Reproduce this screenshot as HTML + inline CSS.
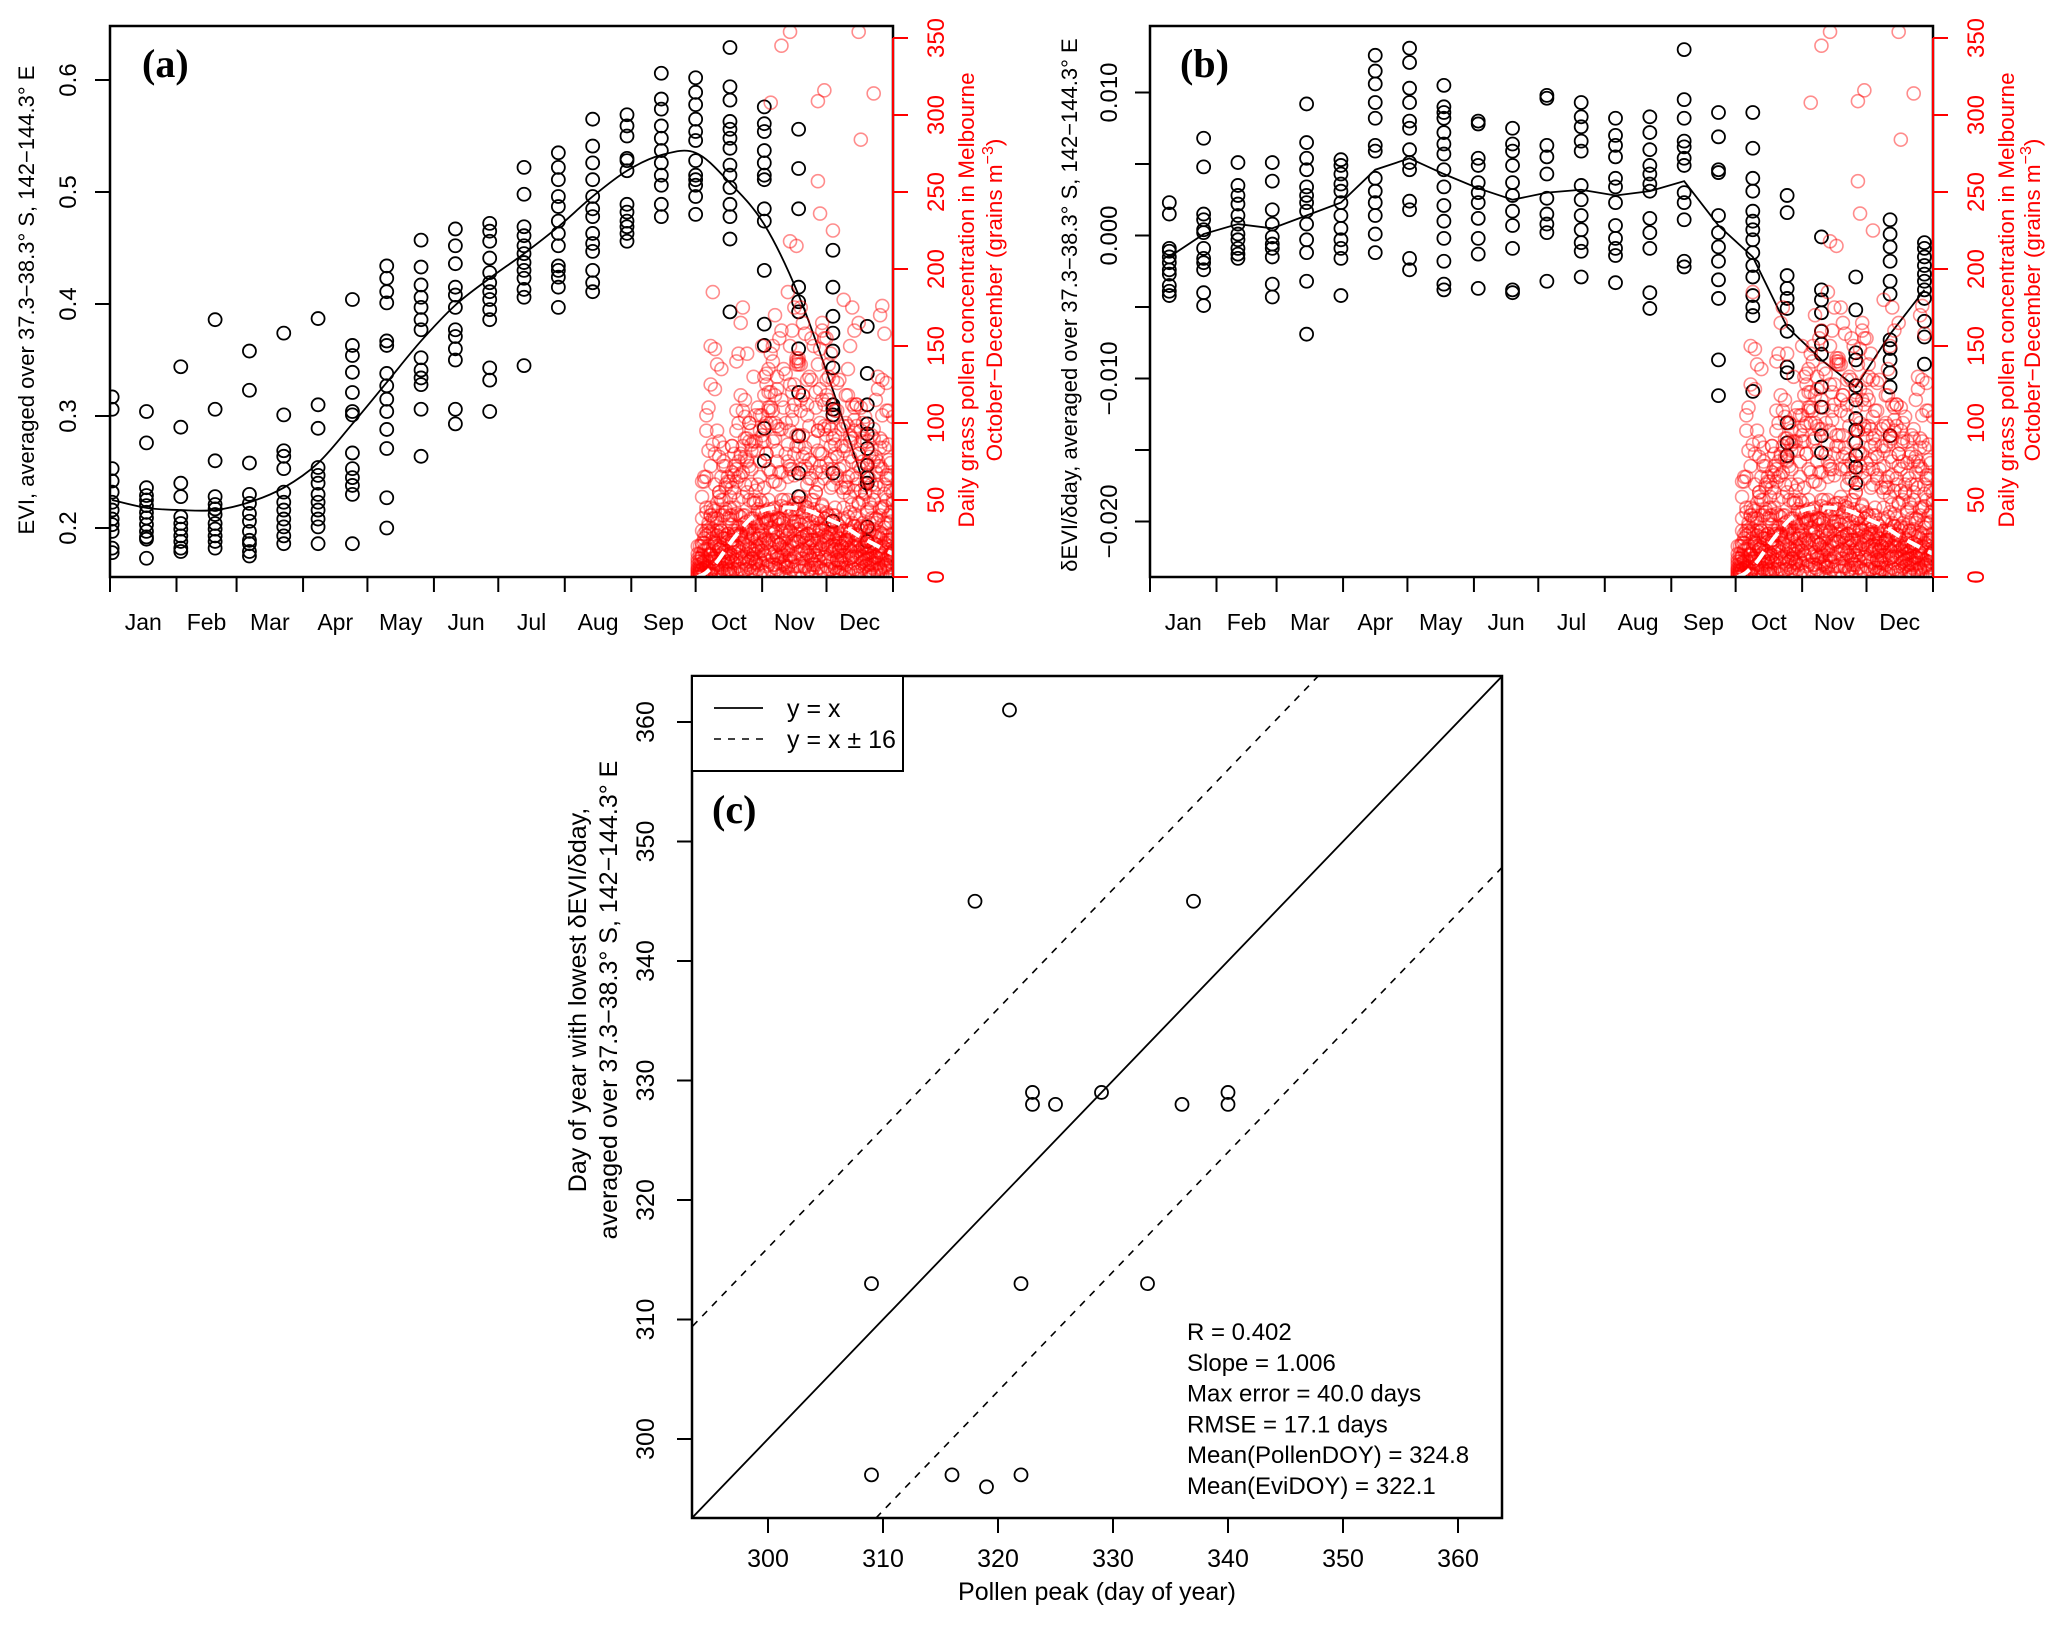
<!DOCTYPE html>
<html><head><meta charset="utf-8"><title>EVI and pollen</title>
<style>
html,body{margin:0;padding:0;background:#fff;}
svg{display:block;font-family:"Liberation Sans",sans-serif;}
</style></head>
<body>
<svg id="fig" width="2067" height="1629" viewBox="0 0 2067 1629" xmlns="http://www.w3.org/2000/svg">
<defs>
<clipPath id="clipA"><rect x="110" y="26" width="783" height="551"/></clipPath>
<clipPath id="clipB"><rect x="1150" y="26" width="783" height="551"/></clipPath>
<clipPath id="clipC"><rect x="692" y="676" width="810" height="842"/></clipPath>
</defs>
</svg>
<script>
// ---------- DATA ----------
const months = ["Jan","Feb","Mar","Apr","May","Jun","Jul","Aug","Sep","Oct","Nov","Dec"];
const monthStarts = [0,31,59,90,120,151,181,212,243,273,304,334,365];
const evaTicks = [0.2,0.3,0.4,0.5,0.6];
const dEviTicks = [0.01,0.005,0,-0.005,-0.01,-0.015,-0.02];
const dEviTickLabels = ["0.010","","0.000","","\u22120.010","","\u22120.020"];
const pollenTicks = [0,50,100,150,200,250,300,350];
const evaDoy = [1,17,33,49,65,81,97,113,129,145,161,177,193,209,225,241,257,273,289,305,321,337,353];
const dEviDoy = [9,25,41,57,73,89,105,121,137,153,169,185,201,217,233,249,265,281,297,313,329,345,361];
const evaValues = [
[0.317,0.306,0.253,0.242,0.232,0.223,0.216,0.208,0.203,0.197,0.182,0.178],
[0.304,0.276,0.236,0.229,0.225,0.220,0.214,0.209,0.203,0.197,0.192,0.190,0.173],
[0.344,0.290,0.240,0.228,0.210,0.204,0.199,0.193,0.188,0.182,0.179],
[0.386,0.306,0.260,0.228,0.221,0.217,0.212,0.204,0.199,0.193,0.188,0.182],
[0.358,0.323,0.258,0.230,0.222,0.213,0.206,0.197,0.189,0.186,0.179,0.175],
[0.374,0.301,0.269,0.264,0.253,0.232,0.223,0.216,0.208,0.201,0.193,0.186],
[0.387,0.310,0.289,0.254,0.247,0.240,0.230,0.223,0.216,0.208,0.201,0.186],
[0.404,0.363,0.354,0.339,0.321,0.304,0.301,0.267,0.253,0.245,0.238,0.230,0.186],
[0.434,0.423,0.411,0.401,0.367,0.363,0.338,0.327,0.315,0.304,0.288,0.271,0.227,0.200],
[0.457,0.433,0.417,0.406,0.397,0.386,0.377,0.352,0.341,0.334,0.328,0.306,0.264],
[0.467,0.452,0.436,0.415,0.408,0.397,0.377,0.371,0.360,0.350,0.306,0.293],
[0.472,0.465,0.456,0.441,0.428,0.419,0.411,0.404,0.395,0.386,0.343,0.332,0.304],
[0.522,0.498,0.469,0.461,0.452,0.445,0.437,0.430,0.423,0.413,0.406,0.345],
[0.535,0.522,0.511,0.496,0.487,0.474,0.463,0.452,0.434,0.430,0.424,0.415,0.397],
[0.565,0.541,0.526,0.511,0.496,0.485,0.478,0.463,0.454,0.447,0.430,0.419,0.411],
[0.569,0.559,0.550,0.530,0.528,0.519,0.489,0.482,0.474,0.469,0.463,0.456],
[0.606,0.583,0.574,0.559,0.548,0.537,0.526,0.515,0.506,0.489,0.478],
[0.602,0.589,0.578,0.565,0.554,0.546,0.528,0.515,0.511,0.506,0.496,0.480],
[0.629,0.594,0.582,0.563,0.556,0.548,0.539,0.524,0.515,0.504,0.489,0.478,0.458,0.393],
[0.576,0.561,0.554,0.537,0.526,0.515,0.511,0.485,0.474,0.430,0.382,0.363,0.289,0.260],
[0.556,0.521,0.485,0.415,0.402,0.393,0.360,0.321,0.282,0.249,0.228],
[0.448,0.415,0.389,0.374,0.358,0.343,0.310,0.306,0.301,0.249,0.206],
[0.380,0.338,0.310,0.293,0.284,0.271,0.256,0.245,0.240,0.201,0.188]
];
const evaCurve = [0.225,0.218,0.216,0.216,0.223,0.236,0.258,0.293,0.330,0.367,0.399,0.423,0.445,0.469,0.496,0.519,0.533,0.535,0.508,0.471,0.408,0.323,0.230];
// dEVI/dday values in units of 0.001
const dEviValues = [
[2.3,1.5,-0.9,-1.1,-1.5,-1.9,-2.4,-2.7,-3.5,-3.9,-4.2],
[6.8,4.8,1.5,1.1,0.4,0.2,-0.9,-1.6,-1.9,-2.4,-4.0,-4.9],
[5.1,3.5,2.8,2.2,1.4,0.8,0.1,-0.3,-0.9,-1.3,-1.6],
[5.1,3.8,1.8,0.8,-0.1,-0.6,-0.9,-1.5,-3.4,-4.3],
[9.2,6.5,5.4,4.6,3.4,2.8,2.3,1.7,0.8,-0.3,-1.2,-3.2,-6.9],
[5.3,4.9,4.3,3.6,3.1,2.3,1.4,0.5,-0.3,-0.9,-1.6,-4.2],
[12.6,11.5,10.6,9.3,8.2,6.3,5.9,4.0,3.1,2.3,1.4,0.1,-1.2],
[13.1,12.1,10.3,9.3,8.0,7.5,6.0,5.1,4.6,2.4,1.8,-1.6,-2.4],
[10.5,9.0,8.6,8.2,7.2,6.4,5.7,4.6,3.4,2.1,1.0,-0.2,-1.8,-3.4,-3.8],
[8.0,7.8,5.4,4.9,3.7,3.0,2.3,1.2,-0.2,-1.3,-3.7],
[7.5,6.4,5.9,4.9,3.7,2.8,1.7,0.7,-0.9,-3.8,-4.0],
[9.8,9.6,6.3,5.5,4.3,2.6,1.5,0.8,0.2,-3.2],
[9.3,8.3,7.6,6.6,5.9,3.5,2.5,1.4,0.4,-0.5,-1.1,-2.9],
[8.2,7.0,6.3,5.5,4.0,3.4,2.3,0.7,-0.2,-0.9,-1.4,-3.3],
[8.3,7.2,6.0,4.9,4.3,3.6,3.1,1.2,0.2,-0.9,-4.0,-5.1],
[13.0,9.5,8.2,6.6,6.2,5.4,4.9,3.0,2.3,1.1,-1.8,-2.2],
[8.6,6.9,4.6,4.4,1.4,0.2,-0.8,-1.8,-3.1,-4.4,-8.7,-11.2],
[8.6,6.1,4.0,3.1,1.7,1.0,0.4,-0.3,-1.2,-2.1,-2.9,-4.2,-5.0,-5.6,-10.9],
[2.8,1.6,-2.8,-3.7,-4.4,-5.1,-6.7,-9.2,-9.6,-13.1,-14.5,-15.4],
[-0.1,-3.8,-4.5,-5.4,-6.7,-7.6,-8.3,-10.6,-12.0,-14.0,-15.2],
[-2.9,-5.2,-8.2,-8.7,-10.5,-11.5,-12.8,-13.6,-14.5,-15.4,-16.2,-17.3],
[1.1,0.1,-0.8,-1.8,-3.2,-4.1,-7.3,-7.9,-8.7,-9.6,-10.6,-14.0],
[-0.5,-0.9,-1.5,-2.1,-2.7,-3.2,-3.8,-4.4,-6.0,-7.1,-9.0]
];
const dEviCurve = [-1.5,0.1,0.8,0.5,1.4,2.3,4.6,5.4,4.3,3.3,2.5,3.0,3.2,2.8,3.1,3.8,0.7,-1.5,-6.4,-8.7,-10.6,-6.9,-3.8];
// Pollen daily values (grains m^-3), Oct-Dec
const pollenDaysEven = [274,276,278,280,282,284,286,288,290,292,294,296,298,300,302,304,306,308,310,312,314,316,318,320,322,324,326,328,330,332,334,336,338,340,342,344,346,348,350,352,354,356,358,360,362,364];
const pollenDaysOdd = [275,277,279,281,283,285,287,289,291,293,295,297,299,301,303,305,307,309,311,313,315,317,319,321,323,325,327,329,331,333,335,337,339,341,343,345,347,349,351,353,355,357,359,361,363,365];
const pollenL1 = [0,1,0,2,1,3,2,4,3,2,5,4,6,3,5,4,7,5,6,4,8,6,5,7,4,6,5,8,6,4,7,5,6,3,5,4,6,3,4,2,3,2,3,1,2,1];
const pollenL2 = [1,3,2,5,4,6,8,5,9,7,10,8,12,9,11,14,10,13,12,15,11,14,13,16,12,15,11,14,10,13,12,9,11,10,8,12,9,7,10,8,6,9,5,7,4,6];
const pollenL3 = [2,5,7,4,9,8,12,10,14,11,16,13,18,15,20,17,22,19,16,21,24,18,20,23,17,22,19,24,16,21,18,15,20,17,14,19,13,16,12,15,11,13,9,12,8,10];
const pollenL4 = [3,6,9,12,8,14,16,13,19,17,22,20,25,21,27,24,23,28,26,30,25,29,27,31,26,28,24,30,22,27,25,21,26,20,23,18,22,17,19,15,18,13,16,11,14,12];
const pollenL5 = [4,9,6,15,12,18,21,17,24,20,28,26,31,27,33,30,35,32,29,34,37,31,33,36,30,35,28,32,27,31,26,29,24,28,22,26,20,24,18,21,16,19,14,17,12,15];
const pollenL6 = [6,11,14,10,20,17,25,22,30,27,34,31,38,35,42,39,44,41,37,46,43,40,47,44,39,45,41,37,43,38,34,40,35,31,36,29,33,27,30,24,28,21,25,19,22,17];
const pollenM1 = [10,14,18,15,22,20,25,28,24,30,27,35,32,38,30,42,36,40,45,38,50,44,41,48,52,46,40,44,38,47,42,36,40,33,38,30,35,28,32,25,30,22,27,20,24,18];
const pollenM2 = [15,22,28,25,35,30,42,38,45,50,40,55,60,48,65,58,70,62,75,68,80,72,66,85,78,70,74,68,80,64,70,60,66,58,62,52,56,48,50,42,45,38,40,32,35,28];
const pollenM3 = [8,20,30,45,38,55,50,62,58,70,66,78,72,88,82,92,80,100,90,96,110,86,102,92,108,84,98,88,95,80,92,76,86,70,82,65,75,60,70,55,64,50,58,44,50,36];
const pollenM4 = [12,18,35,28,48,40,60,52,72,65,85,75,95,88,105,98,120,108,130,115,100,125,112,138,118,105,128,110,122,98,115,90,108,85,100,78,95,72,88,66,80,60,72,54,64,48];
const pollenH1 = [20,30,45,40,60,55,75,65,85,95,80,115,100,130,110,150,125,145,170,155,135,185,160,140,175,158,130,150,138,165,118,145,108,128,98,135,90,112,86,104,78,96,72,88,64,56];
const pollenH2 = [5,25,18,38,30,50,44,62,55,75,68,90,82,105,95,118,108,140,122,160,132,150,175,142,165,128,155,120,148,112,138,104,126,96,118,88,110,80,100,74,92,68,84,60,76,50];
const pollenOutlierDays = [308,313,317,330,333,349,356,350,330,331,317,337,320,360,342];
const pollenOutlierValues = [308,345,354,309,316,354,314,284,257,236,218,225,215,176,180];
const pollenMeanDays = [274,278,283,288,293,298,304,310,318,326,334,342,350,358,365];
const pollenMeanValues = [0,3,10,20,29,37,43,45,45,43,38,33,26,20,15];
// Panel (c)
const pollenPeak = [321,318,337,323,323,325,329,336,340,340,309,322,333,309,316,319,322];
const eviDoyLow = [361,345,345,329,328,328,329,328,329,328,313,313,313,297,297,296,297];
const cTicks = [300,310,320,330,340,350,360];
const lineOffset = 16;
const statsLines = ["R = 0.402","Slope = 1.006","Max error = 40.0 days","RMSE = 17.1 days","Mean(PollenDOY) = 324.8","Mean(EviDOY) = 322.1"];

// ---------- HELPERS ----------
const NS = "http://www.w3.org/2000/svg";
const svg = document.getElementById('fig');
function mk(tag, attrs, parent){
  const e = document.createElementNS(NS, tag);
  for (const k in attrs) e.setAttribute(k, attrs[k]);
  (parent||svg).appendChild(e);
  return e;
}
function txt(s, attrs, parent){ const t = mk('text', attrs, parent); t.textContent = s; return t; }

const A = {L:110, R:893, T:26, B:577};
const Bp = {L:1150, R:1933, T:26, B:577};
function xDoy(P, d){ return P.L + d*(P.R-P.L)/365; }
function yEvi(v){ return 80 + (0.6 - v)*1120; }
function yDEvi(v){ return 235.5 - v*14.3; }
function yPol(p){ return 577 - p*1.54; }
function xC(v){ return 768 + (v-300)*11.5; }
function yC(v){ return 1439 - (v-300)*11.95; }
function smoothPath(pts){
  let d = "M"+pts[0][0]+","+pts[0][1];
  for (let i=0;i<pts.length-1;i++){
    const p0 = pts[i-1]||pts[i], p1=pts[i], p2=pts[i+1], p3=pts[i+2]||p2;
    const c1x=p1[0]+(p2[0]-p0[0])/6, c1y=p1[1]+(p2[1]-p0[1])/6;
    const c2x=p2[0]-(p3[0]-p1[0])/6, c2y=p2[1]-(p3[1]-p1[1])/6;
    d += " C"+c1x+","+c1y+" "+c2x+","+c2y+" "+p2[0]+","+p2[1];
  }
  return d;
}

function monthAxis(P, panel){
  const g = mk('g', {});
  
  
  monthStarts.forEach(d=>{
    const t = mk('line', {x1:xDoy(P,d), x2:xDoy(P,d), y1:P.B, y2:P.B+15, stroke:'#000','stroke-width':2}, g);
    
    
  });
  months.forEach((m,i)=>{
    const x = (xDoy(P,monthStarts[i])+xDoy(P,monthStarts[i+1]))/2;
    const t = txt(m, {x:x, y:630, 'font-size':23, 'text-anchor':'middle'}, g);
    
    
  });
}
function pollenLayer(P, panel){
  const g = mk('g', {'clip-path':'url(#'+(panel==='panel-a'?'clipA':'clipB')+')'});
  
  
  const rows = [pollenL1,pollenL2,pollenL3,pollenL4,pollenL5,pollenL6,pollenM1,pollenM2,pollenM3,pollenM4,pollenH1,pollenH2];
  function draw(days, row){
    row.forEach((v,i)=>{
      const c = mk('circle', {cx:xDoy(P,days[i]), cy:yPol(v), r:6.5, fill:'none', stroke:'rgba(255,0,0,0.45)', 'stroke-width':1.6}, g);
      
      
    });
  }
  rows.forEach((r,k)=>{
    draw(k%2 ? pollenDaysOdd : pollenDaysEven, r);
    draw(k%2 ? pollenDaysEven : pollenDaysOdd, r.map((v,i)=>r[(i*7)%r.length]));
  });
  draw(pollenOutlierDays, pollenOutlierValues);
  const mp = pollenMeanDays.map((d,i)=>[xDoy(P,d), yPol(pollenMeanValues[i])]);
  const ml = mk('path', {d:smoothPath(mp), fill:'none', stroke:'#fff', 'stroke-width':4, 'stroke-dasharray':'14 9'}, g);
  
  
}
function pollenAxis(P, panel, tickX, t1x, t2x){
  const g = mk('g', {});
  
  
  const al = mk('line', {x1:P.R, x2:P.R, y1:yPol(0), y2:yPol(350), stroke:'#f00','stroke-width':2}, g);
  
  
  pollenTicks.forEach(v=>{
    const y = yPol(v);
    const t = mk('line', {x1:P.R, x2:P.R+15, y1:y, y2:y, stroke:'#f00','stroke-width':2}, g);
    
    
    const l = txt(String(v), {x:0,y:0,'font-size':24,'text-anchor':'middle',fill:'#f00',transform:'translate('+tickX+','+y+') rotate(-90)'}, g);
    
    
  });
  const cy = 300;
  const t1 = txt('Daily grass pollen concentration in Melbourne', {x:0,y:0,'font-size':22.5,'text-anchor':'middle',fill:'#f00',transform:'translate('+t1x+','+cy+') rotate(-90)'}, g);
  
  
  const t2 = mk('text', {x:0,y:0,'font-size':22.5,'text-anchor':'middle',fill:'#f00',transform:'translate('+t2x+','+cy+') rotate(-90)'}, g);
  
  
  t2.appendChild(document.createTextNode('October\u2212December (grains  m'));
  const sup = mk('tspan', {dy:-9,'font-size':16}, t2); sup.textContent='\u22123';
  const cl = mk('tspan', {dy:9}, t2); cl.textContent=')';
}

// ---------- PANEL A ----------
(function(){
  const P = A;
  const g = mk('g', {'clip-path':'url(#clipA)'});
  
  
  evaValues.forEach((col,i)=>col.forEach(v=>{
    const c = mk('circle', {cx:xDoy(P,evaDoy[i]), cy:yEvi(v), r:6.5, fill:'none', stroke:'#000','stroke-width':1.8}, g);
    
    
  }));
  const cp = evaDoy.map((d,i)=>[xDoy(P,d), yEvi(evaCurve[i])]);
  const cl = mk('path', {d:smoothPath(cp), fill:'none', stroke:'#000','stroke-width':1.8}, g);
  
  
  pollenLayer(P, 'panel-a');
  const box = mk('rect', {x:P.L, y:P.T, width:P.R-P.L, height:P.B-P.T, fill:'none', stroke:'#000','stroke-width':2.5});
  
  
  const ya = mk('g', {});
  
  
  evaTicks.forEach(v=>{
    const y=yEvi(v);
    const t = mk('line', {x1:P.L-15,x2:P.L,y1:y,y2:y,stroke:'#000','stroke-width':2}, ya);
    
    
    const l = txt(v.toFixed(1), {x:0,y:0,'font-size':24,'text-anchor':'middle',transform:'translate(76,'+y+') rotate(-90)'}, ya);
    
    
  });
  const yt = txt('EVI, averaged over 37.3\u221238.3\u00b0 S, 142\u2212144.3\u00b0 E', {x:0,y:0,'font-size':22,'text-anchor':'middle',transform:'translate(34,300) rotate(-90)'});
  
  
  monthAxis(P, 'panel-a');
  pollenAxis(P, 'panel-a', 944, 974, 1002);
  const lab = txt('(a)', {x:142,y:77,'font-size':40,'font-weight':'bold','font-family':'"Liberation Serif",serif'});
  
  
})();

// ---------- PANEL B ----------
(function(){
  const P = Bp;
  const g = mk('g', {'clip-path':'url(#clipB)'});
  
  
  dEviValues.forEach((col,i)=>col.forEach(v=>{
    const c = mk('circle', {cx:xDoy(P,dEviDoy[i]), cy:yDEvi(v), r:6.5, fill:'none', stroke:'#000','stroke-width':1.8}, g);
    
    
  }));
  const pts = dEviDoy.map((d,i)=>xDoy(P,d)+','+yDEvi(dEviCurve[i])).join(' ');
  const cl = mk('polyline', {points:pts, fill:'none', stroke:'#000','stroke-width':1.8}, g);
  
  
  pollenLayer(P, 'panel-b');
  const box = mk('rect', {x:P.L, y:P.T, width:P.R-P.L, height:P.B-P.T, fill:'none', stroke:'#000','stroke-width':2.5});
  
  
  const ya = mk('g', {});
  
  
  dEviTicks.forEach((v,i)=>{
    const y=yDEvi(v*1000);
    const t = mk('line', {x1:P.L-15,x2:P.L,y1:y,y2:y,stroke:'#000','stroke-width':2}, ya);
    
    
    if (dEviTickLabels[i]) {
      const l = txt(dEviTickLabels[i], {x:0,y:0,'font-size':24,'text-anchor':'middle',transform:'translate(1117,'+y+') rotate(-90)'}, ya);
      
      
    }
  });
  const yt = txt('\u03b4EVI/\u03b4day, averaged over 37.3\u221238.3\u00b0 S, 142\u2212144.3\u00b0 E', {x:0,y:0,'font-size':22,'text-anchor':'middle',transform:'translate(1077,305) rotate(-90)'});
  
  
  monthAxis(P, 'panel-b');
  pollenAxis(P, 'panel-b', 1984, 2014, 2040);
  const lab = txt('(b)', {x:1180,y:77,'font-size':40,'font-weight':'bold','font-family':'"Liberation Serif",serif'});
  
  
})();

// ---------- PANEL C ----------
(function(){
  const lo = 293.4, hi = 363.8;
  const g = mk('g', {'clip-path':'url(#clipC)'});
  
  
  const l1 = mk('line', {x1:xC(lo),y1:yC(lo),x2:xC(hi),y2:yC(hi),stroke:'#000','stroke-width':1.8}, g);
  
  
  const l2 = mk('line', {x1:xC(lo-lineOffset),y1:yC(lo),x2:xC(hi),y2:yC(hi+lineOffset),stroke:'#000','stroke-width':1.6,'stroke-dasharray':'7 7'}, g);
  
  
  const l3 = mk('line', {x1:xC(lo+lineOffset),y1:yC(lo),x2:xC(hi+lineOffset),y2:yC(hi),stroke:'#000','stroke-width':1.6,'stroke-dasharray':'7 7'}, g);
  
  
  pollenPeak.forEach((x,i)=>{
    const c = mk('circle', {cx:xC(x), cy:yC(eviDoyLow[i]), r:6.5, fill:'none', stroke:'#000','stroke-width':1.8}, g);
    
    
  });
  const box = mk('rect', {x:692,y:676,width:810,height:842,fill:'none',stroke:'#000','stroke-width':2.5});
  
  
  const ax = mk('g', {});
  
  
  cTicks.forEach(v=>{
    const tx = mk('line', {x1:xC(v),x2:xC(v),y1:1518,y2:1533,stroke:'#000','stroke-width':2}, ax);
    
    
    const lx = txt(String(v), {x:xC(v),y:1567,'font-size':25,'text-anchor':'middle'}, ax);
    
    
    const ty = mk('line', {x1:677,x2:692,y1:yC(v),y2:yC(v),stroke:'#000','stroke-width':2}, ax);
    
    
    const ly = txt(String(v), {x:0,y:0,'font-size':25,'text-anchor':'middle',transform:'translate(654,'+yC(v)+') rotate(-90)'}, ax);
    
    
  });
  const xt = txt('Pollen peak (day of year)', {x:1097,y:1600,'font-size':25,'text-anchor':'middle'});
  
  
  const yt1 = txt('Day  of  year with lowest \u03b4EVI/\u03b4day,', {x:0,y:0,'font-size':25,'text-anchor':'middle','xml:space':'preserve',transform:'translate(586,1000) rotate(-90)'});
  
  
  const yt2 = txt('averaged over 37.3\u221238.3\u00b0 S, 142\u2212144.3\u00b0 E', {x:0,y:0,'font-size':25,'text-anchor':'middle',transform:'translate(617,1000) rotate(-90)'});
  
  
  const lg = mk('g', {});
  
  
  const lr = mk('rect', {x:692,y:676,width:211,height:95,fill:'#fff',stroke:'#000','stroke-width':2}, lg);
  
  
  const e1 = mk('line', {x1:714,x2:763,y1:708,y2:708,stroke:'#000','stroke-width':1.8}, lg);
  
  
  const e1t = txt('y = x', {x:787,y:717,'font-size':25}, lg);
  
  
  const e2 = mk('line', {x1:714,x2:763,y1:739,y2:739,stroke:'#000','stroke-width':1.6,'stroke-dasharray':'7 7'}, lg);
  
  
  const e2t = txt('y = x \u00b1 16', {x:787,y:748,'font-size':25}, lg);
  
  
  const lab = txt('(c)', {x:712,y:823,'font-size':40,'font-weight':'bold','font-family':'"Liberation Serif",serif'});
  
  
  statsLines.forEach((s,i)=>{
    const t = txt(s, {x:1187,y:1340+i*30.8,'font-size':24});
    
    
  });
})();
</script>
</body></html>
